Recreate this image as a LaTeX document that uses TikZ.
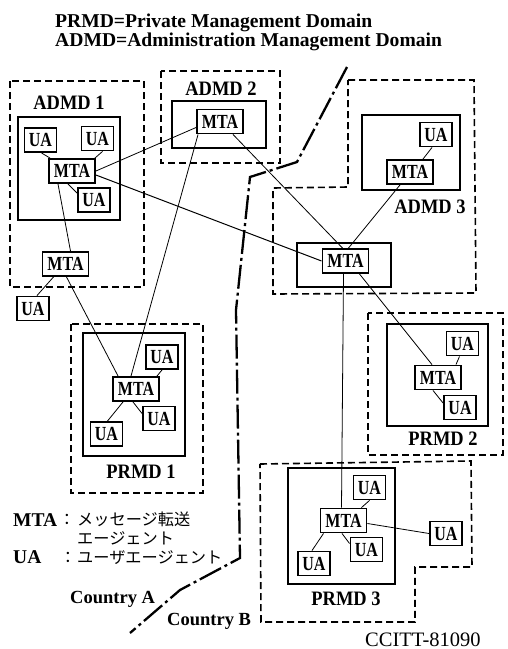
\documentclass[tikz,border=0pt]{standalone}
\usepackage{fontspec}
\setmainfont{Liberation Serif}
\newfontfamily\condfont[FakeStretch=0.8]{Liberation Serif}
\newfontfamily\labfont[FakeStretch=0.9]{Liberation Serif}
\newfontfamily\cjk{Noto Sans CJK JP}
\newcommand\boxfnt{\condfont\bfseries\fontsize{20}{20}\selectfont}
\newcommand\labfnt{\labfont\bfseries\fontsize{20.5}{20.5}\selectfont}
\tikzset{
  boxed/.style={draw, line width=1.9pt, fill=white, inner sep=0pt, font=\boxfnt},
  mta/.style={boxed, minimum width=46pt, minimum height=24pt},
  ua/.style={boxed, minimum width=32pt, minimum height=24pt},
  dom/.style={line width=1.3pt},
  dashdom/.style={line width=1.6pt, dash pattern=on 7pt off 4pt},
  conn/.style={line width=0.8pt},
  border/.style={line width=2.3pt, dash pattern=on 24pt off 4pt on 3pt off 4pt},
  lbl/.style={anchor=base, inner sep=0pt, font=\labfnt},
  txt/.style={anchor=base west, inner sep=0pt},
  jp/.style={font=\cjk\fontsize{16.2}{16.2}\selectfont}
}
\begin{document}
\begin{tikzpicture}[x=1pt,y=-1pt]
\path[use as bounding box] (0,0) rectangle (507,649);

% titles
\node[txt, font=\bfseries\fontsize{19.6}{19.6}\selectfont] (t1) at (55,27) {PRMD=Private Management Domain};
\node[txt, font=\bfseries\fontsize{19.6}{19.6}\selectfont] (t2) at (55,46) {ADMD=Administration Management Domain};

% dashed domains
\draw[dashdom] (10,81) rectangle (144,287);
\draw[dashdom] (161,71) rectangle (280,163);
\draw[dashdom] (348,80) -- (474,80) -- (476,293) -- (273,294) -- (273,188) -- (348,187) -- cycle;
\draw[dashdom] (71,324) rectangle (203,493);
\draw[dashdom] (368,313) rectangle (503,455);
\draw[dashdom] (260,464) -- (471,461) -- (472,567) -- (415,567) -- (415,622) -- (261,622) -- cycle;

% solid domain boxes
\draw[dom] (18,117) rectangle (120,220);
\draw[dom] (172,101) rectangle (266,148);
\draw[dom] (362,115) rectangle (460,190);
\draw[dom] (297,243) rectangle (391,287);
\draw[dom] (83,333) rectangle (185,456);
\draw[dom] (387,324) rectangle (488,426);
\draw[dom] (288,468) rectangle (395,584);

% domain labels
\node[lbl] (l1) at (69,109) {ADMD 1};
\node[lbl] (l2) at (221,95) {ADMD 2};
\node[lbl] (l3) at (430,213) {ADMD 3};
\node[lbl] (l4) at (141,478) {PRMD 1};
\node[lbl] (l5) at (443,445) {PRMD 2};
\node[lbl] (l6) at (346,605) {PRMD 3};

% country border
\draw[border] (347,67) -- (297,162) -- (250,177) -- (236,310) -- (240,558) -- (180,590) -- (130,633);

% nodes
\node[ua] (a1ua1) at (40.5,140) {UA};
\node[ua] (a1ua2) at (97.5,138.5) {UA};
\node[mta] (a1m) at (72,171) {MTA};
\node[ua] (a1ua3) at (94,200) {UA};
\node[mta] (a1m2) at (65.5,264) {MTA};
\node[ua] (uaout) at (33,308.5) {UA};
\node[mta] (a2m) at (220,121.5) {MTA};
\node[ua] (a3ua) at (436,134.5) {UA};
\node[mta] (a3m) at (410,172) {MTA};
\node[mta] (cm) at (345.5,261) {MTA};
\node[ua] (p1ua1) at (162,357) {UA};
\node[mta] (p1m) at (136,389) {MTA};
\node[ua] (p1ua2) at (159,418.5) {UA};
\node[ua] (p1ua3) at (106.5,434) {UA};
\node[ua] (p2ua1) at (462.5,343.5) {UA};
\node[mta] (p2m) at (438,377.5) {MTA};
\node[ua] (p2ua2) at (460,407.5) {UA};
\node[ua] (p3ua1) at (369.5,487.5) {UA};
\node[mta] (p3m) at (343.5,520.5) {MTA};
\node[ua] (p3ua2) at (366.5,549.5) {UA};
\node[ua] (p3ua3) at (314,563.5) {UA};
\node[ua] (p3ua4) at (446,533.5) {UA};

% connectors
\draw[conn] ([xshift=1pt]a1ua1.south) -- ([xshift=2pt]a1m.north west);
\draw[conn] ([xshift=5pt]a1ua2.south) -- ([xshift=-1pt]a1m.north east);
\draw[conn] ([xshift=-4pt]a1m.south) -- ([yshift=7pt]a1ua3.west);
\draw[conn] (a1m.east) -- ([yshift=-6pt]a2m.west);
\draw[conn, line width=1pt] ([yshift=-4pt]a1m.east) -- (cm.west);
\draw[conn] ([xshift=-14pt]a1m.south) -- ([xshift=5pt]a1m2.north);
\draw[conn] ([xshift=-12pt]a1m2.south) -- ([xshift=4pt]uaout.north);
\draw[conn] ([xshift=1pt]a1m2.south) -- ([xshift=6pt]p1m.north west);
\draw[conn] ([xshift=2pt]a2m.south west) -- ([xshift=-5pt]p1m.north);
\draw[conn] ([xshift=13pt]a2m.south) -- ([xshift=-3pt]cm.north);
\draw[conn] ([xshift=-10pt]a3m.south) -- ([xshift=3pt]cm.north);
\draw[conn] ([xshift=13pt]a3m.north) -- ([xshift=-4pt]a3ua.south);
\draw[conn] ([xshift=14pt]cm.south) -- ([xshift=-6pt]p2m.north);
\draw[conn] ([xshift=-2pt]cm.south) -- ([xshift=-2pt]p3m.north);
\draw[conn] ([yshift=-3pt]p3m.east) -- (p3ua4.west);
\draw[conn] ([xshift=21pt]p1m.north) -- (p1ua1.south);
\draw[conn] ([xshift=-3pt]p1m.south) -- ([yshift=5pt]p1ua2.west);
\draw[conn] ([xshift=-13pt]p1m.south) -- ([xshift=1pt]p1ua3.north);
\draw[conn] ([xshift=18pt]p2m.north) -- ([xshift=-3pt]p2ua1.south);
\draw[conn] ([xshift=-5pt]p2m.south) -- ([yshift=4.5pt]p2ua2.west);
\draw[conn] ([xshift=18pt]p3m.north) -- (p3ua1.south);
\draw[conn] ([xshift=-1.5pt]p3m.south) -- ([yshift=6pt]p3ua2.west);
\draw[conn] ([xshift=-20pt]p3m.south) -- ([xshift=-2pt]p3ua3.north);

% legend
\node[txt, font=\bfseries\fontsize{19.5}{19.5}\selectfont] (lg1) at (13,526) {MTA};
\node[anchor=base, inner sep=0pt, jp] (lg2) at (67,525) {：};
\node[txt, jp] (lg3) at (77,525) {メッセージ転送};
\node[txt, jp] (lg4) at (77,544) {エージェント};
\node[txt, font=\bfseries\fontsize{19.5}{19.5}\selectfont] (lg5) at (13,563) {UA};
\node[anchor=base, inner sep=0pt, jp] (lg6) at (68,563) {：};
\node[txt, jp] (lg7) at (77,563) {ユーザエージェント};

% country labels
\node[txt, font=\bfseries\fontsize{18.5}{18.5}\selectfont] (ca) at (70,603) {Country A};
\node[txt, font=\bfseries\fontsize{18.5}{18.5}\selectfont] (cb) at (167,625) {Country B};
\node[txt, font=\fontsize{20.5}{20.5}\selectfont] (cc) at (365,646) {CCITT-81090};
\end{tikzpicture}
\end{document}
